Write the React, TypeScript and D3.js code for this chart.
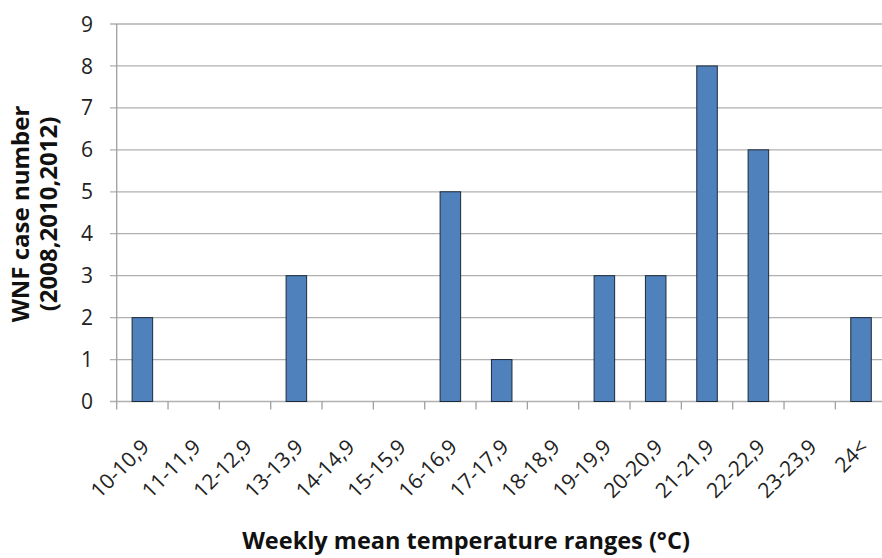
import React from "react";
import * as d3 from "d3";

const categories = ["10-10,9","11-11,9","12-12,9","13-13,9","14-14,9","15-15,9","16-16,9","17-17,9","18-18,9","19-19,9","20-20,9","21-21,9","22-22,9","23-23,9","24<"];
const values = [2,0,0,3,0,0,5,1,0,3,3,8,6,0,2];
const yTicks = [0,1,2,3,4,5,6,7,8,9];
const xTitle = "Weekly mean temperature ranges (°C)";
const yTitle1 = "WNF case number";
const yTitle2 = "(2008,2010,2012)";

const W = 882, H = 558;
const left = 116.7, right = 886.7, top = 24, bottom = 401.5;

export default function App() {
  const x = d3.scaleBand<string>().domain(categories).range([left, right]).paddingInner(0).paddingOuter(0);
  const y = d3.scaleLinear().domain([0, 9]).range([bottom, top]);
  const bw = x.bandwidth() * 0.4;
  const font = "'Open Sans', sans-serif";
  const boundaries = categories.map((c) => x(c) as number);
  return (
    <svg width={W} height={H} style={{ position: "absolute", left: 0, top: 0, background: "#fff" }}>
      <rect x={0} y={0} width={W} height={H} fill="#fff" />
      {yTicks.map((t) => (
        <g key={t}>
          <line x1={110} x2={W} y1={y(t)} y2={y(t)} stroke="#b0b0b0" strokeWidth={1.3} />
          <text x={93} y={y(t)} dy="0.36em" textAnchor="end" fontFamily={font} fontSize={21} fill="#222">{t}</text>
        </g>
      ))}
      <line x1={left} x2={left} y1={top} y2={bottom} stroke="#a0a0a0" strokeWidth={1.3} />
      {boundaries.map((b, i) => (
        <line key={i} x1={b} x2={b} y1={bottom} y2={bottom + 8} stroke="#a0a0a0" strokeWidth={1.3} />
      ))}
      {categories.map((c, i) => {
        const cx = (x(c) as number) + x.bandwidth() / 2;
        return values[i] > 0 ? (
          <rect key={c} x={cx - bw / 2} y={y(values[i])} width={bw} height={y(0) - y(values[i])} fill="#4F81BD" stroke="#1e2a38" strokeWidth={1} />
        ) : null;
      })}
      {categories.map((c) => {
        const cx = (x(c) as number) + x.bandwidth() / 2;
        return (
          <text key={c} transform={`translate(${cx + 3},${443}) rotate(-45)`} dy="0.35em" textAnchor="end" fontFamily={font} fontSize={21} fill="#222">{c}</text>
        );
      })}
      <text x={466} y={549} textAnchor="middle" fontFamily={font} fontWeight="bold" fontSize={23.5} fill="#111">{xTitle}</text>
      <text transform={`translate(29,214) rotate(-90)`} textAnchor="middle" fontFamily={font} fontWeight="bold" fontSize={24} fill="#111">{yTitle1}</text>
      <text transform={`translate(57,214) rotate(-90)`} textAnchor="middle" fontFamily={font} fontWeight="bold" fontSize={24} fill="#111">{yTitle2}</text>
    </svg>
  );
}
